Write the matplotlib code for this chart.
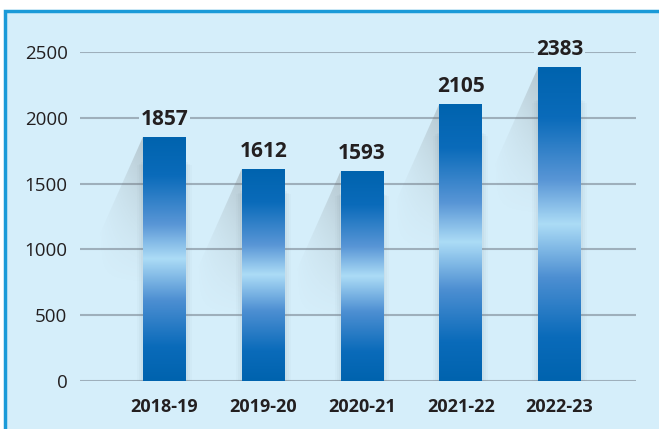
import numpy as np
import matplotlib.pyplot as plt
from matplotlib.colors import LinearSegmentedColormap
from matplotlib.patches import Rectangle, Polygon

# data
years = ["2018-19", "2019-20", "2020-21", "2021-22", "2022-23"]
values = [1857, 1612, 1593, 2105, 2383]
yticks = [0, 500, 1000, 1500, 2000, 2500]

plt.rcParams['font.family'] = ['Open Sans', 'DejaVu Sans']

bg = "#d5eefa"
grid_col = "#9eafbb"
text_col = "#231f20"

# bar gradient (bottom -> top)
bar_cmap = LinearSegmentedColormap.from_list("bar", [
    (0.0, "#0063ae"), (0.14, "#0a6bba"), (0.33, "#4d8fd2"), (0.5, "#acdcf6"),
    (0.64, "#5996d6"), (0.84, "#0a6bba"), (1.0, "#0063ae")])

fig = plt.figure(figsize=(6.59, 4.29), dpi=100)
fig.patch.set_facecolor("white")

# light blue panel with blue border
panel = Rectangle((5 / 659, -0.05), 1.1, (429 - 11) / 429 + 0.05, transform=fig.transFigure,
                  facecolor=bg, edgecolor="#1a9ad8", linewidth=2.5, zorder=-5)
fig.patches.append(panel)

ax = fig.add_axes([80 / 659, (429 - 381) / 429, (636 - 80) / 659, (381 - 52) / 429])
ax.set_zorder(1)
ax.set_facecolor("none")
ax.set_xlim(-0.856, 4.775)
ax.set_ylim(0, 2500)

for s in ax.spines.values():
    s.set_visible(False)
ax.set_yticks(yticks)
ax.yaxis.grid(True, color=grid_col, linewidth=1.5)
ax.set_axisbelow(True)
ax.tick_params(axis="y", length=0, pad=9, labelsize=13.5, labelcolor=text_col)
ax.set_xticks(range(len(years)))
ax.set_xticklabels(years, fontweight="bold")
ax.tick_params(axis="x", length=0, pad=12, labelsize=13, labelcolor=text_col)

w = 0.435
grad = np.linspace(0, 1, 256).reshape(-1, 1)
for i, v in enumerate(values):
    xl = i - w / 2
    # diagonal shadow falling to the left
    sx = 0.45
    sdrop = 760
    shadow = Polygon([(xl, v), (xl - sx, v - sdrop), (xl - sx, v - sdrop - 500), (xl, v - 1150)],
                     closed=True, facecolor="none", edgecolor="none")
    ax.add_patch(shadow)
    sh = np.zeros((64, 64, 4))
    sh[..., :3] = 0.42
    yy, xx = np.mgrid[0:1:64j, 0:1:64j]
    sh[..., 3] = 0.3 * yy ** 1.3 * xx ** 0.8
    im_s = ax.imshow(sh, extent=[xl - sx, xl, v - 1150, v], origin="lower",
                     aspect="auto", zorder=1, interpolation="bilinear")
    im_s.set_clip_path(shadow)
    # soft shadow around bar
    for k, a in enumerate([0.05, 0.04, 0.03]):
        ax.add_patch(Rectangle((xl - 0.02 * (k + 1), -10 * (k + 1)), w + 0.04 * (k + 1), v * 0.9,
                               facecolor="#6b7f8c", alpha=a, edgecolor="none", zorder=1.5))
    # gradient bar
    rect = Rectangle((xl, 0), w, v, facecolor="none", edgecolor="none", zorder=2)
    ax.add_patch(rect)
    im = ax.imshow(grad, cmap=bar_cmap, extent=[xl, xl + w, 0, v], origin="lower",
                   aspect="auto", zorder=2)
    im.set_clip_path(rect)
    ax.annotate(str(v), (i, v), xytext=(0, 5), textcoords="offset points",
                ha="center", va="bottom", fontsize=15, fontweight="bold",
                color=text_col, zorder=5, annotation_clip=False,
                bbox=dict(facecolor=bg, edgecolor="none", pad=1.5))

ax.set_xlim(-0.856, 4.775)
ax.set_ylim(0, 2500)

fig.savefig("out.png", dpi=100, facecolor="white")
